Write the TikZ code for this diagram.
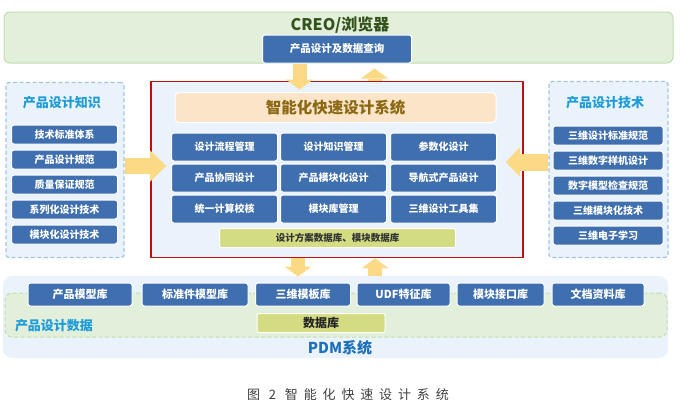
\documentclass[tikz,border=0pt]{standalone}
\usepackage{fontspec}
\setmainfont{Noto Sans CJK SC}
\newfontfamily\capfont[LetterSpace=45]{Noto Sans CJK SC}
\usetikzlibrary{arrows.meta}
\definecolor{itemblue}{HTML}{3F6FAE}
\definecolor{bargreen}{HTML}{E2EFDA}
\definecolor{bargreenline}{HTML}{C3DDB2}
\definecolor{creotext}{HTML}{33521C}
\definecolor{panelfill}{HTML}{EAF3FB}
\definecolor{paneldash}{HTML}{A4C4E4}
\definecolor{titlecyan}{HTML}{1F9CD8}
\definecolor{sysred}{HTML}{BE1010}
\definecolor{sysfill}{HTML}{FCE4C8}
\definecolor{systext}{HTML}{8A6814}
\definecolor{dbgreen}{HTML}{D3DC82}
\definecolor{pdmtext}{HTML}{1E70BA}
\definecolor{fatyellow}{HTML}{FCD985}

\begin{document}
\begin{tikzpicture}[x=1pt, y=-1pt,
    item/.style={fill=itemblue, draw=white, line width=1pt, rounded corners=2.5pt, text=white,
      inner sep=0pt, font=\bfseries\fontsize{10}{12}\selectfont},
    sideitem/.style={item, minimum width=106, minimum height=19},
    gridbox/.style={item, minimum width=106, minimum height=28},
    libbox/.style={item, minimum height=23, font=\bfseries\fontsize{11}{13}\selectfont},
    dashpanel/.style={fill=panelfill, draw=paneldash, line width=1.3pt, dash pattern=on 4pt off 2.5pt,
      rounded corners=3pt, inner sep=0pt},
    paneltitle/.style={text=titlecyan, font=\bfseries\fontsize{13}{15}\selectfont},
    vfat/.style={draw=fatyellow, line width=14pt, -{Triangle[width=27pt, length=10pt, line width=0pt]}},
    hfat/.style={draw=fatyellow, line width=16pt, -{Triangle[width=31pt, length=16pt, line width=0pt]}}]
  \useasboundingbox (0,0) rectangle (680,410);

  % top: CREO
  \node[fill=bargreen, draw=bargreenline, line width=1pt, rounded corners=6pt, minimum width=669, minimum height=51] (creo) at (338.5,37.5) {};
  \node[text=creotext, font=\bfseries\fontsize{16}{18}\selectfont] (creotitle) at (340,25) {CREO/浏览器};
  \node[item, minimum width=149, minimum height=28, font=\bfseries\fontsize{10.5}{12}\selectfont] (query) at (337,49) {产品设计及数据查询};

  % left panel
  \node[dashpanel, minimum width=118, minimum height=175] (kpanel) at (65,170) {};
  \node[paneltitle] (ktitle) at (62,103) {产品设计知识};
  \node[sideitem] (k1) at (64.5,134.5) {技术标准体系};
  \node[sideitem] (k2) at (64.5,159.5) {产品设计规范};
  \node[sideitem] (k3) at (64.5,184.5) {质量保证规范};
  \node[sideitem] (k4) at (64.5,209.5) {系列化设计技术};
  \node[sideitem] (k5) at (64.5,234.5) {模块化设计技术};

  % right panel
  \node[dashpanel, minimum width=119, minimum height=176] (tpanel) at (608.5,169.5) {};
  \node[paneltitle] (ttitle) at (605,103) {产品设计技术};
  \node[sideitem, minimum width=110] (t1) at (608,135.5) {三维设计标准规范};
  \node[sideitem, minimum width=110] (t2) at (608,160.5) {三维数字样机设计};
  \node[sideitem, minimum width=110] (t3) at (608,185.5) {数字模型检查规范};
  \node[sideitem, minimum width=110] (t4) at (608,210.5) {三维模块化技术};
  \node[sideitem, minimum width=110] (t5) at (608,235.5) {三维电子学习};

  % centre system
  \node[fill=panelfill, draw=sysred, line width=1.6pt, minimum width=372, minimum height=176, inner sep=0pt] (redbox) at (337,169.5) {};
  \node[fill=sysfill, draw=white, line width=1pt, rounded corners=4pt, minimum width=321, minimum height=30,
    text=systext, font=\bfseries\fontsize{15.5}{18}\selectfont] (sys) at (335.5,107.5) {智能化快速设计系统};
  \node[gridbox] (g11) at (224.5,147) {设计流程管理};
  \node[gridbox] (g12) at (333.5,147) {设计知识管理};
  \node[gridbox] (g13) at (443.5,147) {参数化设计};
  \node[gridbox] (g21) at (224.5,178) {产品协同设计};
  \node[gridbox] (g22) at (333.5,178) {产品模块化设计};
  \node[gridbox] (g23) at (443.5,178) {导航式产品设计};
  \node[gridbox] (g31) at (224.5,209) {统一计算校核};
  \node[gridbox] (g32) at (333.5,209) {模块库管理};
  \node[gridbox] (g33) at (443.5,209) {三维设计工具集};
  \node[fill=dbgreen, draw=white, line width=1pt, rounded corners=2pt, minimum width=236, minimum height=19, inner sep=0pt,
    text=black!80, font=\bfseries\fontsize{9.5}{11}\selectfont] (schemedb) at (337.5,238) {设计方案数据库、模块数据库};

  % bottom: PDM
  \node[fill=panelfill, rounded corners=9pt, minimum width=665, minimum height=82, inner sep=0pt] (pdm) at (335.5,317) {};
  \node[fill=bargreen, draw=bargreenline, line width=1pt, dash pattern=on 4pt off 2.5pt, rounded corners=7pt,
    minimum width=662, minimum height=44, inner sep=0pt] (pdata) at (336,315) {};
  \node[libbox, minimum width=104] (lib1) at (80,294.5) {产品模型库};
  \node[libbox, minimum width=106] (lib2) at (195,294.5) {标准件模型库};
  \node[libbox, minimum width=95] (lib3) at (303,294.5) {三维模板库};
  \node[libbox, minimum width=93] (lib4) at (403.5,294.5) {UDF特征库};
  \node[libbox, minimum width=87] (lib5) at (500.5,294.5) {模块接口库};
  \node[libbox, minimum width=92] (lib6) at (598,294.5) {文档资料库};
  \node[fill=dbgreen, draw=white, line width=1pt, rounded corners=2pt, minimum width=128, minimum height=19, inner sep=0pt,
    text=black!85, font=\bfseries\fontsize{12}{14}\selectfont] (db) at (321,323) {数据库};
  \node[paneltitle] (pdatatitle) at (54,326) {产品设计数据};
  \node[text=pdmtext, font=\bfseries\fontsize{15}{18}\selectfont] (pdmtitle) at (340,348) {PDM系统};

  % fat arrows
  \draw[vfat, shorten >=2.5pt] ([xshift=-37.5]query.south) -- ([xshift=-37.5]query.south |- sys.north);
  \draw[vfat, shorten >=5pt] ([xshift=37.5]redbox.north) -- ([xshift=37.5]query.south);
  \draw[vfat, shorten >=6pt] ([xshift=-39]redbox.south) -- ([xshift=-39]redbox.south |- lib3.north);
  \draw[vfat] ([xshift=38]redbox.south |- pdm.north) -- ([xshift=38]redbox.south);
  \draw[hfat, shorten >=-16pt] ([yshift=4]kpanel.east) -- ([yshift=4]kpanel.east -| redbox.west);
  \draw[hfat, line width=17pt, -{Triangle[width=29pt, length=14pt, line width=0pt]}, shorten >=-18pt]
    ([yshift=7.5]tpanel.west) -- ([yshift=7.5]tpanel.west -| redbox.east);

  % caption
  \node[text=black!75, font=\capfont\fontsize{13}{15}\selectfont] (caption) at (348,395) {图 2 智能化快速设计系统};
\end{tikzpicture}
\end{document}
